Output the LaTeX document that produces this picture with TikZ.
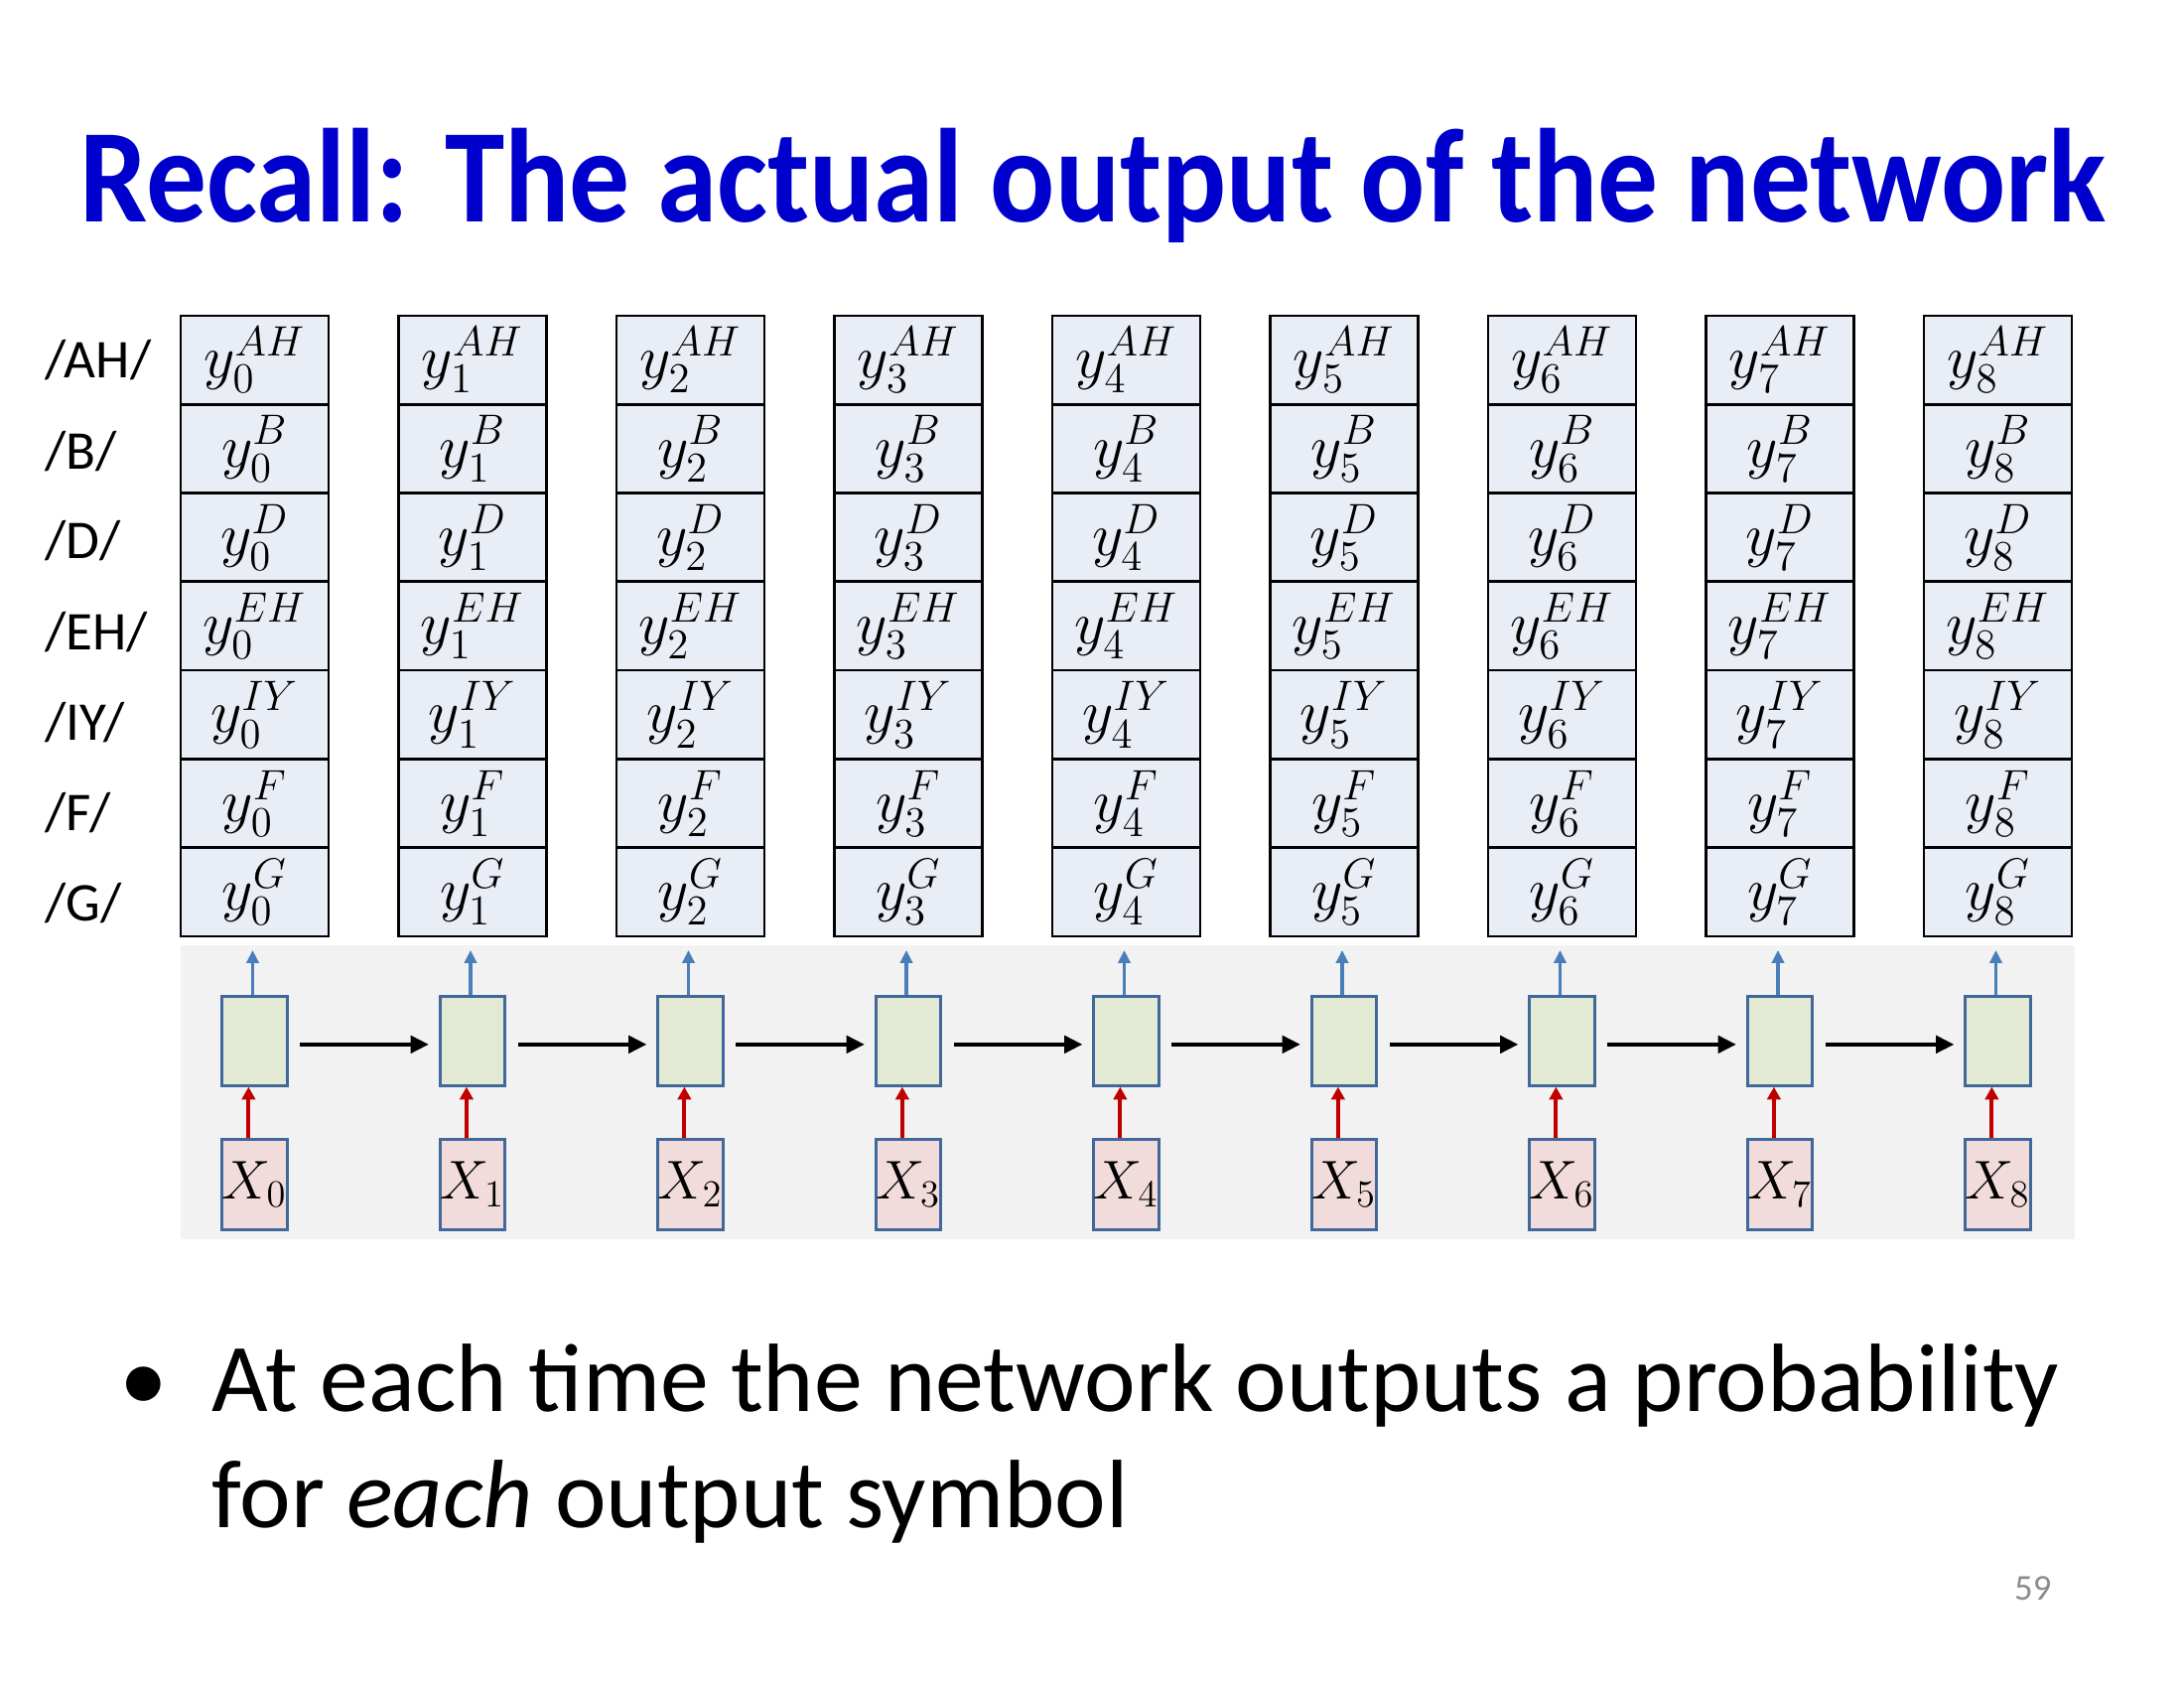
\RequirePackage{fix-cm}
\documentclass[tikz,border=0pt]{standalone}
\usepackage{graphicx}
\usepackage{fontspec}
\setmainfont{Carlito}
\usetikzlibrary{arrows.meta}

\definecolor{titleblue}{HTML}{0000CC}
\definecolor{cellfill}{HTML}{E9EDF5}
\definecolor{rnnfill}{HTML}{E3EAD3}
\definecolor{infill}{HTML}{F2DCDB}
\definecolor{boxedge}{HTML}{41689A}
\definecolor{upblue}{HTML}{4A7EBB}
\definecolor{inred}{HTML}{C00000}
\definecolor{panel}{HTML}{F2F2F2}
\definecolor{pagegray}{HTML}{8C8C8C}

\tikzset{
  cell/.style={draw=black, line width=0.9pt, fill=cellfill, inner sep=0pt,
    minimum width=48.76pt, minimum height=29.22pt,
    font=\fontsize{20}{24}\selectfont},
  rnn/.style={draw=boxedge, line width=1pt, fill=rnnfill, inner sep=0pt,
    minimum width=21.3pt, minimum height=29.2pt},
  inbox/.style={draw=boxedge, line width=1pt, fill=infill, inner sep=0pt,
    minimum width=21.3pt, minimum height=29.5pt,
    font=\fontsize{18}{22}\selectfont},
  phon/.style={anchor=base west, inner sep=0pt, font=\fontsize{18}{22}\selectfont},
  outarrow/.style={draw=upblue, line width=1pt, -{Triangle[length=4.2pt, width=4pt]}},
  inarrow/.style={draw=inred, line width=1.3pt, -{Triangle[length=4.2pt, width=4.4pt]}},
  recur/.style={draw=black, line width=1.3pt, -{Triangle[length=6pt, width=5.7pt]},
    shorten <=3.9pt, shorten >=3.3pt},
}

\begin{document}
\begin{tikzpicture}[x=0.32727pt, y=-0.32727pt]
  \useasboundingbox (0,0) rectangle (2200,1700);

  % heading, set in a narrowed bold face
  \node[anchor=base west, inner sep=0pt, text=titleblue,
        font=\fontsize{44}{53}\selectfont\bfseries] (title) at (80,224)
        {\resizebox{667.9pt}{\height}{Recall: The actual output of the network}};

  % phoneme labels on the left
  \foreach \lab [count=\r from 0] in {AH,B,D,EH,IY,F,G}
    \node[phon] (lab\r) at (45, {381+91*\r}) {/\lab/};

  % output probability columns
  \foreach \c in {0,...,8}
    \foreach \lab [count=\r from 0] in {AH,B,D,EH,IY,F,G}
      \node[cell] (y\c-\r) at ({256.5+219.5*\c}, {362.6+89.29*\r}) {$y_{\c}^{\lab}$};

  % unrolled network panel
  \fill[panel] (182,952) rectangle (2090,1248);

  \foreach \c in {0,...,8} {
    \node[rnn] (g\c) at ({256.5+219.5*\c}, 1048.5) {};
    \node[inbox] (x\c) at ({256.5+219.5*\c}, 1193) {$X_{\c}$};
    \coordinate (o\c) at ({254.5+219.5*\c}, 957);
    \draw[outarrow] (g\c.north -| o\c) -- (o\c);
    \draw[inarrow] ([xshift=-2pt]x\c.north) -- ([xshift=-2pt]g\c.south);
  }

  \foreach \c [evaluate=\c as \n using int(\c+1)] in {0,...,7}
    \draw[recur] ([yshift=-1.1pt]g\c.east) -- ([yshift=-1.1pt]g\n.west);

  % bullet text
  \node[anchor=base, inner sep=0pt, font=\fontsize{32}{38}\selectfont] (bul) at (145,1421) {•};
  \node[anchor=base west, inner sep=0pt, font=\fontsize{32}{38}\selectfont] (line1) at (213,1421)
        {At each time the network outputs a probability};
  \node[anchor=base west, inner sep=0pt, font=\fontsize{32}{38}\selectfont] (line2) at (213,1538)
        {for \textit{each} output symbol};

  % slide number
  \node[anchor=base east, inner sep=0pt, text=pagegray, font=\fontsize{12}{14}\selectfont]
        (pageno) at (2067,1611) {59};
\end{tikzpicture}
\end{document}
